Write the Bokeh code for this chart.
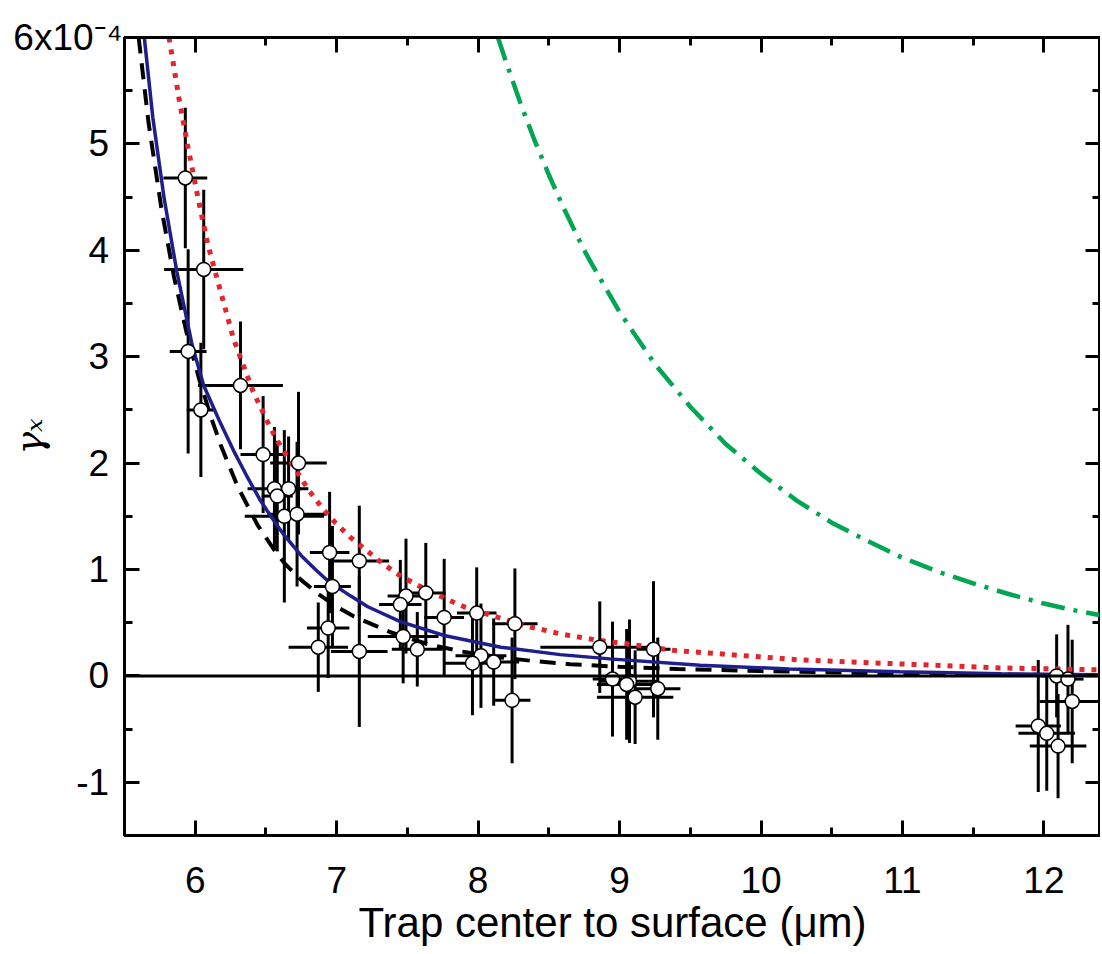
from bokeh.plotting import figure
from bokeh.models import Span, LinearAxis, ColumnDataSource, FixedTicker, Range1d
from bokeh.embed import file_html
from bokeh.resources import INLINE

# ---------------- data ----------------
x_um = [5.93, 6.06, 5.95, 6.04, 6.32, 6.48, 6.73, 6.56, 6.66, 6.58, 6.63, 6.72,
        6.95, 6.97, 7.16, 6.94, 6.87, 7.16, 7.49, 7.63, 7.45, 7.76, 7.47, 7.57,
        7.99, 8.02, 7.96, 8.11, 8.26, 8.24, 8.86, 9.24, 8.95, 9.07, 9.05, 9.11,
        9.27, 12.09, 12.17, 12.20, 11.96, 12.02, 12.10]
gamma = [4.68, 3.82, 3.05, 2.50, 2.73, 2.08, 2.00, 1.76, 1.76, 1.69, 1.50, 1.52,
         1.16, 0.84, 1.08, 0.45, 0.27, 0.23, 0.75, 0.78, 0.67, 0.55, 0.37, 0.25,
         0.59, 0.19, 0.12, 0.13, 0.49, -0.23, 0.27, 0.25, -0.03, -0.05, -0.08, -0.20,
         -0.12, 0.00, -0.03, -0.24, -0.47, -0.54, -0.66]
x_err = [0.155, 0.28, 0.13, 0.10, 0.30, 0.16, 0.20, 0.19, 0.14, 0.11, 0.28, 0.21,
         0.14, 0.13, 0.21, 0.15, 0.21, 0.20, 0.13, 0.14, 0.15, 0.14, 0.25, 0.18,
         0.14, 0.18, 0.20, 0.18, 0.16, 0.13, 0.42, 0.12, 0.14, 0.21, 0.21, 0.27,
         0.16, 0.11, 0.11, 0.23, 0.16, 0.20, 0.20]
y_err = [0.66, 0.75, 0.96, 0.63, 0.60, 0.55, 0.67, 0.58, 0.49, 0.52, 0.81, 0.68,
         0.57, 0.57, 0.52, 0.47, 0.42, 0.71, 0.54, 0.47, 0.42, 0.55, 0.44, 0.35,
         0.43, 0.49, 0.49, 0.41, 0.52, 0.59, 0.43, 0.64, 0.54, 0.58, 0.52, 0.44,
         0.48, 0.39, 0.51, 0.58, 0.62, 0.54, 0.49]

# model curves
blue_x = [5.64, 5.70, 5.78, 5.87, 5.98, 6.06, 6.17, 6.27, 6.36, 6.46, 6.55, 6.63,
          6.75, 6.85, 6.94, 7.10, 7.22, 7.45, 7.76, 8.16, 8.58, 8.93, 9.57, 10.20,
          10.98, 11.70, 12.40]
blue_y = [6.00, 5.25, 4.49, 3.80, 3.10, 2.73, 2.40, 2.12, 1.89, 1.65, 1.47, 1.32,
          1.13, 1.00, 0.89, 0.75, 0.65, 0.51, 0.38, 0.27, 0.20, 0.16, 0.10, 0.065,
          0.04, 0.02, 0.01]

black_x = [5.60, 5.67, 5.76, 5.85, 5.94, 6.03, 6.12, 6.18, 6.30, 6.44, 6.55, 6.63,
           6.75, 6.87, 7.00, 7.12, 7.38, 7.64, 7.88, 8.15, 8.39, 8.65, 9.00, 9.41,
           10.00, 10.63, 11.50, 12.40]
black_y = [6.00, 5.20, 4.40, 3.75, 3.22, 2.78, 2.40, 2.17, 1.78, 1.42, 1.20, 1.06,
           0.90, 0.77, 0.65, 0.56, 0.41, 0.30, 0.23, 0.175, 0.14, 0.11, 0.085, 0.065,
           0.045, 0.03, 0.015, 0.005]

red_x = [5.815, 5.885, 5.95, 6.02, 6.09, 6.18, 6.27, 6.41, 6.51, 6.58, 6.80, 6.89,
         6.99, 7.10, 7.22, 7.33, 7.44, 7.56, 7.78, 7.90, 8.14, 8.37, 8.60, 8.82,
         9.06, 9.38, 10.28, 11.69, 12.40]
red_y = [6.00, 5.43, 4.96, 4.49, 4.05, 3.61, 3.17, 2.67, 2.39, 2.21, 1.75, 1.59,
         1.44, 1.30, 1.17, 1.05, 0.95, 0.86, 0.72, 0.65, 0.55, 0.46, 0.39, 0.34,
         0.30, 0.24, 0.15, 0.075, 0.057]

green_x = [8.14, 8.20, 8.30, 8.40, 8.50, 8.60, 8.75, 8.80, 9.00, 9.25, 9.50, 9.75,
           10.00, 10.25, 10.50, 10.75, 11.00, 11.25, 11.50, 11.75, 12.00, 12.20, 12.40]
green_y = [6.00, 5.76, 5.38, 5.03, 4.71, 4.41, 4.00, 3.88, 3.42, 2.93, 2.53, 2.18,
           1.90, 1.65, 1.44, 1.27, 1.11, 0.98, 0.87, 0.77, 0.68, 0.62, 0.57]

x_ticks = [6, 7, 8, 9, 10, 11, 12]
x_minor = [6.5, 7.5, 8.5, 9.5, 10.5, 11.5]
y_ticks = [-1, 0, 1, 2, 3, 4, 5, 6]
y_minor = [-1.5, -0.5, 0.5, 1.5, 2.5, 3.5, 4.5, 5.5]
y_tick_names = ["-1", "0", "1", "2", "3", "4", "5"]
y_top_name = "6x10\u207b\u2074"

# the exponent label reaches closer to the axis than the plain numbers:
# plain labels get a small non-collapsing trailing pad
PAD = "\u00a0\u200a"
y_tick_text = {t: s + PAD for t, s in zip(y_ticks[:-1], y_tick_names)}
y_tick_text[6] = y_top_name

FONT = "Liberation Sans"

p = figure(frame_width=976, frame_height=798,
           x_range=Range1d(5.5, 12.4), y_range=Range1d(-1.5, 6.0),
           output_backend="svg", toolbar_location=None,
           min_border_left=124, min_border_right=0, min_border_top=37,
           min_border_bottom=20)
p.xgrid.visible = False
p.ygrid.visible = False
p.outline_line_color = "black"
p.outline_line_width = 3
p.outline_line_alpha = 1.0

for ax in (p.xaxis[0], p.yaxis[0]):
    ax.axis_line_width = 3
    ax.major_tick_line_width = 3
    ax.minor_tick_line_width = 3
    ax.major_tick_in = 15
    ax.major_tick_out = 0
    ax.minor_tick_in = 8
    ax.minor_tick_out = 0
    ax.major_label_text_font = FONT
    ax.major_label_text_font_size = "37px"
    ax.major_label_text_color = "black"
    ax.axis_label_text_color = "black"

p.xaxis.ticker = FixedTicker(ticks=x_ticks, minor_ticks=x_minor)
p.yaxis.ticker = FixedTicker(ticks=y_ticks, minor_ticks=y_minor)
p.yaxis.major_label_overrides = y_tick_text
p.xaxis.major_label_standoff = 31
p.yaxis.major_label_standoff = 2

p.xaxis.axis_label = "Trap center to surface (\u03bcm)"
p.xaxis.axis_label_text_font = FONT
p.xaxis.axis_label_text_font_style = "normal"
p.xaxis.axis_label_text_font_size = "42px"
p.xaxis.axis_label_standoff = 3

p.yaxis.axis_label = "\u03b3\u2093"
p.yaxis.axis_label_text_font = "DejaVu Serif"
p.yaxis.axis_label_text_font_style = "italic"
p.yaxis.axis_label_text_font_size = "38px"
p.yaxis.axis_label_standoff = -41


def tick_only_axis(ticks, minor):
    return LinearAxis(ticker=FixedTicker(ticks=ticks, minor_ticks=minor),
                      axis_line_width=3, major_tick_line_width=3,
                      minor_tick_line_width=3, major_tick_in=15, major_tick_out=0,
                      minor_tick_in=8, minor_tick_out=0,
                      major_label_text_font_size="1px", major_label_text_color=None,
                      major_label_standoff=0)


p.add_layout(tick_only_axis(x_ticks, x_minor), "above")
p.add_layout(tick_only_axis(y_ticks, y_minor), "right")

# zero line
p.add_layout(Span(location=0, dimension="width", line_color="black", line_width=3))

# error bars
src = ColumnDataSource(dict(
    x=x_um, y=gamma,
    xl=[a - b for a, b in zip(x_um, x_err)], xr=[a + b for a, b in zip(x_um, x_err)],
    yl=[a - b for a, b in zip(gamma, y_err)], yh=[a + b for a, b in zip(gamma, y_err)],
))
p.segment(x0="xl", y0="y", x1="xr", y1="y", source=src, line_color="black", line_width=3)
p.segment(x0="x", y0="yl", x1="x", y1="yh", source=src, line_color="black", line_width=3)

# model curves
p.line(black_x, black_y, line_color="black", line_width=4, line_dash="16 10")
p.line(blue_x, blue_y, line_color="#1e1e8c", line_width=3.5)
p.line(red_x, red_y, line_color="#e3262d", line_width=5, line_dash="5 7")
p.line(green_x, green_y, line_color="#00a651", line_width=4.5, line_dash="24 9 4 9")

# points
p.scatter("x", "y", source=src, size=14, fill_color="white", line_color="black",
          line_width=1.5)

open("out.html", "w").write(file_html(p, INLINE))
